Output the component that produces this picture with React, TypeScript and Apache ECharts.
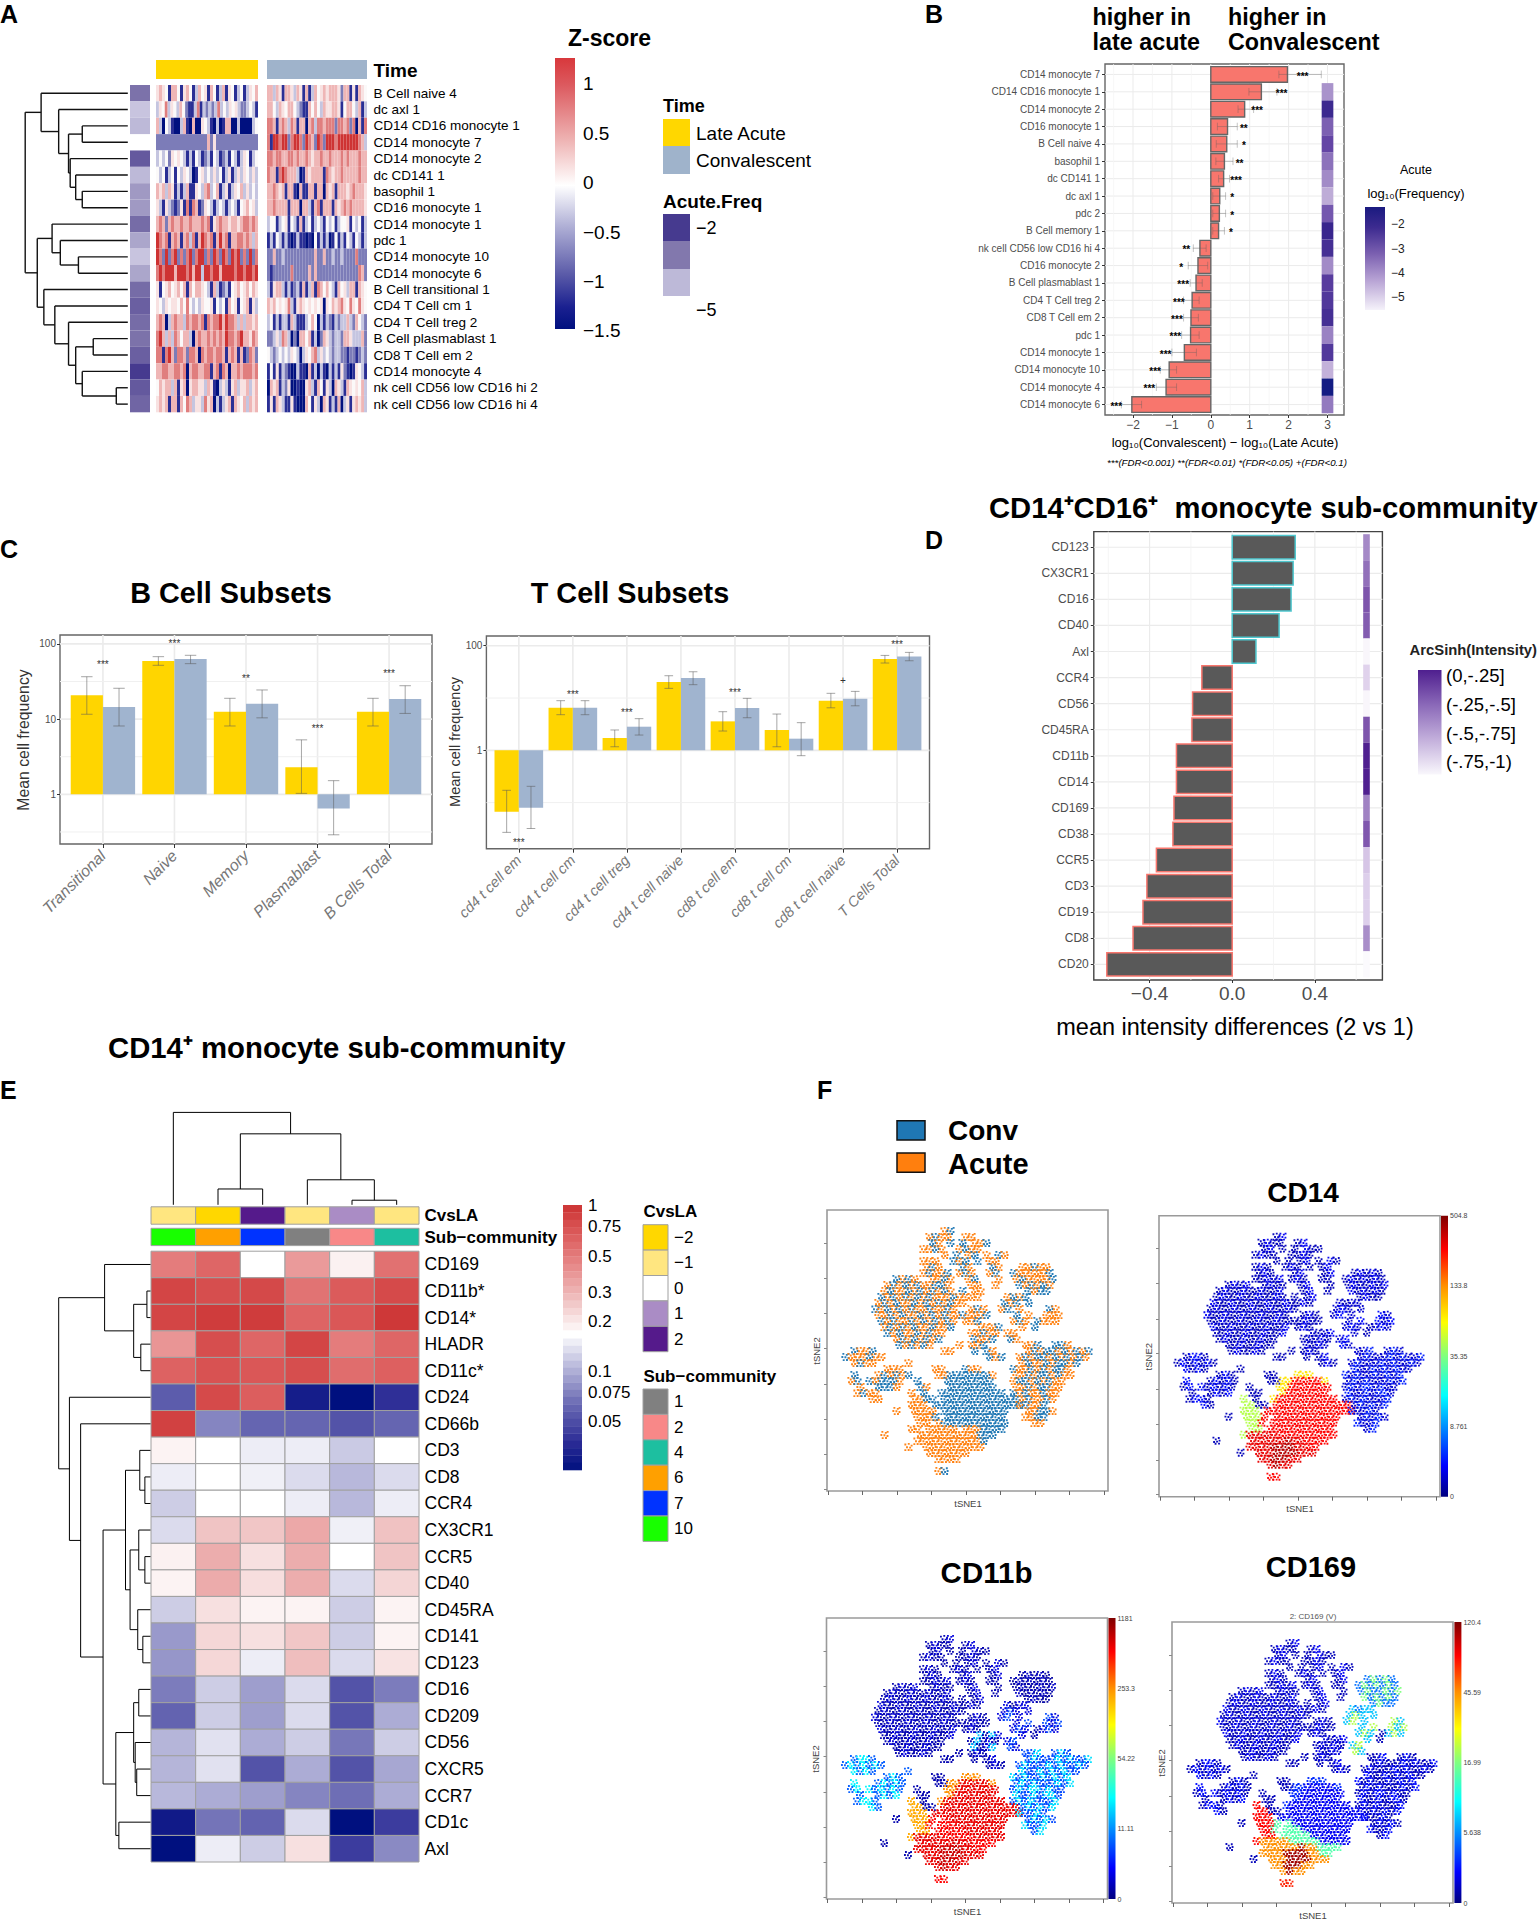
import React, { useEffect, useRef } from "react";
import * as echarts from "echarts";

const FONT = '"Liberation Sans", Arial, sans-serif';

// ---------- Panel A ----------
const aRows = ["B Cell naive 4","dc axl 1","CD14 CD16 monocyte 1","CD14 monocyte 7","CD14 monocyte 2","dc CD141 1","basophil 1","CD16 monocyte 1","CD14 monocyte 1","pdc 1","CD14 monocyte 10","CD14 monocyte 6","B Cell transitional 1","CD4 T Cell cm 1","CD4 T Cell treg 2","B Cell plasmablast 1","CD8 T Cell em 2","CD14 monocyte 4","nk cell CD56 low CD16 hi 2","nk cell CD56 low CD16 hi 4"];
const aLate = [
"prp.Brr.Bpr.Blr.pBr.BlrBp.Bl.Blp.r",
"lp.Rlp.lr.mBBlRBlmlmlRl.lp.plmml.lB",
"rlN.lBNNlrBNrNNp.lBNlNBrrNNlNNNNl.",
"mmmmmmmmmmmmmmmmmrmpmmmmmmmmmmmmmm",
"l.l.mp.p.lBlB.lBmlB.lBmlB.lBlp.Bl.",
".l.Bl.B.lp.lNB.pl.lpl.BlpBlplp.lpl",
"rprlrpBlBlrBBp.lrRl.rBlpBlp.rlpl.l",
"plBplmBmpBRBRrBmp.lBl.lBl.lB.pr.pl",
"rRrmrRrrRrrRrrrRrRBprRrrprrprRRrRr",
"DRrRBrRrBrRlRBrDRrRBrDrRBrrRRrRrlr",
"DRmDmRDmRmRDmRDDmRmDRmDRmDRDmRmDmR",
"RDRDDDrDDDRDrDDlDDRDDrDDDDRDDRDDRD",
"pB.pr.pr.rBr.rrp.lBrlBmlB.pr.pr.rp",
"p.lp.pp.r.R.l.lp..pB.l.Br.pB.prBpl",
"rRrNlrRrrlRrRRrRBRrRRDrDRRrlrlrrpr",
"RDrlrlRr.rrlNrRrrRrRrRrDRRrRDrrpRr",
"RRBRDrmRRrmRRrNRrRRrRRrBrRrBrBmRrm",
"rrRRrrRRrRNrRRrrRRBrRBRrNrrRrRRRrR",
".rprrlrBprNprrpplrpBNlplBprlpprlpr",
"prprBrrBr.RrlpplRprNlBlprBrp.rlrpr"];
const aConv = [
"rrlrpBrrplrpBrBlr.prprrrpmrrBpBrp.",
"rr.lrp.rr.lmBBr.r.lrpprrpB.rr.lrBl",
"RRrBrRrlRrBrrNrRlRRrRRRmRRrRmRNrBR",
"RBDDRDDmRDDRmDRrmDRmDDDRDDDDDDDRrl",
"RRrRRrrRRrRrrRrprrRrrRrrrRrRrrrRrr",
"RrrBRDRrrrlNBrprrrrBRrprrRrrrrrRrr",
"rrRrprBrrBNrBBrrBrrNrprBrrrprRrrrp",
"rrRrrrrBrrrNrrlBrRBrrrBrprRrRrrrrp",
"l..Bl.pB.lBrBl.Bl.lB.l.Bl..pB.l.Bl",
"BlB.lBlBNBlBBNBN.BlBlNB.BlB.lB.lBl",
"mmrmmlmmmmmmmmmmrmmrmmlmmlmmmmRmmm",
"mBmmmmmmRmmmmmrmrmmmmmmmmmmmmmmRrm",
"lBprrlBlBmlBrBlrBRr.r.lBr.plrrBrp.",
"rpr.p.pRlBprp.p.p.pNp.rprRp.Rp.Rp.",
"l.BlBllBrlBBBl.r.NlBlmBlmllrlmr.lm",
"mmlplRrlNmNrr.rBlNmrplmllmrrplllrm",
".lml.l.lp.lNlp.rRlpl.lmllmmBmmBmlm",
"B.BpBlmBNNlBBNrBlNlBNlBlBpmBNBp.lB",
"NrprBlmpNNBNNprlBr.BplNrplBrp.p.rl",
"BpBrplBBpBNNNr.BplNrpBlBrNlpBprprl"];
const aLevels: Record<string, number> = { N: -1.5, B: -1.1, m: -0.7, l: -0.3, ".": 0, p: 0.2, r: 0.45, R: 0.8, D: 1.25 };
const aFreq: (number | null)[] = [-2.9,-4.3,-4.0,null,-2.5,-4.0,-3.5,-3.5,-2.8,-3.7,-4.3,-3.7,-2.8,-2.6,-2.8,-2.9,-2.6,-2,-2.5,-2.7];
const aTree: any = [187,[158,0,[126,1,[108,[83,2,3],[105,4,[95,5,[83,6,7]]]]]],[165,[138,8,[123,9,[90,10,11]]],[153,12,[133,13,[108,14,[95,[63,15,16],[83,17,[21,18,19]]]]]]]];
const zTicks = ["1","0.5","0","−0.5","−1","−1.5"];

// ---------- Panel B ----------
const bCats = ["CD14 monocyte 7","CD14 CD16 monocyte 1","CD14 monocyte 2","CD16 monocyte 1","B Cell naive 4","basophil 1","dc CD141 1","dc axl 1","pdc 2","B Cell memory 1","nk cell CD56 low CD16 hi 4","CD16 monocyte 2","B Cell plasmablast 1","CD4 T Cell treg 2","CD8 T Cell em 2","pdc 1","CD14 monocyte 1","CD14 monocyte 10","CD14 monocyte 4","CD14 monocyte 6"];
const bDiff = [1.97,1.3,0.87,0.43,0.41,0.35,0.33,0.23,0.22,0.2,-0.28,-0.33,-0.38,-0.48,-0.51,-0.52,-0.68,-1.07,-1.15,-2.03];
const bLow = [1.75,0.98,0.7,0.17,0.14,0.13,0.2,0.05,0.05,0.05,-0.45,-0.58,-0.53,-0.7,-0.7,-0.75,-1.0,-1.3,-1.4,-2.3];
const bHigh = [2.84,1.7,1.1,0.68,0.68,0.57,0.48,0.38,0.38,0.35,-0.12,-0.08,-0.22,-0.3,-0.32,-0.3,-0.37,-0.88,-0.88,-1.78];
const bStarX = [2.36,1.82,1.19,0.85,0.85,0.74,0.65,0.55,0.55,0.52,-0.63,-0.76,-0.71,-0.82,-0.87,-0.91,-1.16,-1.43,-1.58,-2.43];
const bStars = ["***","***","***","**","*","**","***","*","*","*","**","*","***","***","***","***","***","***","***","***"];
const bFreq: (number | null)[] = [null,-3.9,-2.3,-3.3,-3,-3.5,-3.8,-4.3,-3.2,-2.2,-2.5,-3.8,-2.8,-2.7,-2.5,-3.7,-2.7,-4.4,-1.7,-3.6];

// ---------- Panel C ----------
const cBCats = ["Transitional","Naive","Memory","Plasmablast","B Cells Total"];
const cBLate = [20.7,59,12.5,2.3,12.5];
const cBConv = [14.5,63,16,0.65,18.5];
const cBLateErr = [[11.6,36.6],[51.9,67.6],[8.1,18.9],[1.03,5.3],[8.1,18.9]];
const cBConvErr = [[8.1,25.7],[54.6,70.5],[10.4,24.4],[0.29,1.52],[11.9,27.8]];
const cBStars = ["***","***","**","***","***"];
const cBStarY = [53.7,100,35,7.6,40.6];
const cTCats = ["cd4 t cell em","cd4 t cell cm","cd4 t cell treg","cd4 t cell naive","cd8 t cell em","cd8 t cell cm","cd8 t cell naive","T Cells Total"];
const cTLate = [0.067,6.5,1.72,20.2,3.58,2.45,8.9,55.6];
const cTConv = [0.08,6.5,2.83,24.1,6.44,1.67,9.7,62.5];
const cTLateErr = [[0.027,0.172],[4.8,8.9],[1.17,2.45],[15.3,26.7],[2.34,5.48],[1.17,4.94],[6.5,12.3],[46.7,65.3]];
const cTConvErr = [[0.032,0.205],[4.8,8.9],[1.96,4.03],[18,31.8],[4.2,9.86],[0.79,3.38],[7.1,13.4],[51.6,74.6]];
const cTStars = ["***","***","***","","***","","+","***"];
const cTStarY = [0.017,11.7,5.2,0,13,0,22,104];

// ---------- Panel D ----------
const dCats = ["CD123","CX3CR1","CD16","CD40","Axl","CCR4","CD56","CD45RA","CD11b","CD14","CD169","CD38","CCR5","CD3","CD19","CD8","CD20"];
const dDiff = [0.305,0.295,0.285,0.227,0.115,-0.147,-0.192,-0.195,-0.27,-0.27,-0.282,-0.287,-0.367,-0.413,-0.432,-0.48,-0.607];
const dIntensity = [-0.48,-0.38,-0.27,-0.3,-0.98,-0.78,-0.98,-0.27,-0.03,-0.03,-0.45,-0.28,-0.72,-0.76,-0.76,-0.5,-1];
const dLegend = ["(0,-.25]","(-.25,-.5]","(-.5,-.75]","(-.75,-1)"];

// ---------- Panel E ----------
const eRows = ["CD169","CD11b*","CD14*","HLADR","CD11c*","CD24","CD66b","CD3","CD8","CCR4","CX3CR1","CCR5","CD40","CD45RA","CD141","CD123","CD16","CD209","CD56","CXCR5","CCR7","CD1c","Axl"];
const eValues = [
[0.6,0.72,0,0.45,0.06,0.66],[0.9,0.85,0.88,0.65,0.78,0.87],[0.9,0.95,0.95,0.73,0.8,0.97],[0.47,0.85,0.72,0.9,0.6,0.72],[0.74,0.83,0.8,0.85,0.68,0.75],
[-0.58,0.87,0.76,-0.9,-1,-0.78],[0.92,-0.42,-0.54,-0.54,-0.62,-0.54],[0.05,0,-0.06,-0.06,-0.18,0],[-0.06,0,-0.05,-0.12,-0.24,-0.12],[-0.17,0,0,-0.06,-0.24,-0.06],
[-0.12,0.25,0.24,0.38,-0.05,0.26],[0.06,0.36,0.13,0.36,0,0.25],[0.05,0.37,0.14,0.36,-0.12,0.18],[-0.17,0.13,0.05,0.05,-0.17,0.05],[-0.35,0.17,0.13,0.24,-0.17,0.05],
[-0.36,0.17,-0.06,0.28,-0.12,0.12],[-0.45,-0.17,-0.33,-0.12,-0.62,-0.45],[-0.55,-0.17,-0.33,-0.12,-0.62,-0.28],[-0.25,-0.1,-0.28,-0.17,-0.47,-0.17],[-0.25,-0.1,-0.62,-0.28,-0.62,-0.3],
[-0.24,-0.28,-0.33,-0.42,-0.5,-0.28],[-0.92,-0.48,-0.55,-0.12,-1,-0.72],[-1,-0.06,-0.17,0.13,-0.72,-0.4]];
const eCvsLA = ["#FFE680","#FFD700","#551A8B","#FFE680","#AA8CC5","#FFE680"];
const eSub = ["#18FF00","#FFA000","#0033FF","#808080","#F88888","#1DBFA0"];
const eCvsLegend = [["−2","#FFD700"],["−1","#FFE680"],["0","#FFFFFF"],["1","#AA8CC5"],["2","#551A8B"]];
const eSubLegend = [["1","#808080"],["2","#F88888"],["4","#1DBFA0"],["6","#FFA000"],["7","#0033FF"],["10","#18FF00"]];
const eLeftTree: any = [181,[91,0,[34,[8,1,2],[20,3,4]]],[160,5,[138,6,[94,[50,[22,7,[12,8,9]],[41,[24,10,[12,11,12]],[26,13,[16,14,15]]]],[69,[34,[24,16,17],[31,18,[28,19,20]]],[63,21,22]]]]]];
const eTopTree: any = [181,0,[139,[31,1,2],[49,3,[9,4,5]]]];
const eScale = [["1",1205],["0.75",1226],["0.5",1256],["0.3",1292.5],["0.2",1321.6],["0.1",1371],["0.075",1392],["0.05",1421.6]] as [string, number][];

// ---------- Panel F: tSNE cells ("col:cells" per row) ----------
const tsneConvAcute = ["","","",
"19:ob","17:oboo 23:oo","17:bo.b 22:b.o 25:ob","16:oobo 22:oboo.","19:o. 21:b.ob.o.bo","16:ooo 21:bob.b 27:oo","16:obo. 21:.bo. 27:bo 32:ooboo",
"16:oboob 22:obo 27:ob 31:booooob","11:bobo 17:oobo 23:ob 27:.o 31:oboooob","10:oboboboob 19:bo 24:oo 28:o 32:bobobo","9:oboobobobobo 22:b.oo 33:bobb","9:bobobobobooob 22:oooo 30:obob.",
"8:oboboobobobobo 22:o. 29:bob.b","8:bobobobooboobo 24:obo 29:ob.o.. 37:bo","8:oobobooboboboo 22:booob 30:.b.o 36:ooo","9:boboobobobobo 22:.oob 31:obo 35:booo","9:obobobooboob 25:ooob 31:.o 34:b",
"10:bobooboboo 24:ooboo 30:oo","11:obobobob 24:boob 30:bo","12:bobobo 22:o 24:oob. 33:oob 38:bbo","4:boob 19:oo 24:b.bo 33:obobbobobob","3:boooboo 26:.bob 32:obobbobobobo",
"4:oboo. 12:.o 32:oboobobbob.","10:ooo. 18:oo 23:boo 31:boobobobbo.","4:b. 7:.obobob 18:oobbbbbbbo 31:oobobboboo","4:ob. 7:bobbbo 15:b. 19:.bbbbbbbb 31:obboboboo","5:o. 7:.bbbo 15:bo 20:bbbbbbbb 31:oobobboo",
"5:ob 7:oo. 14:o.b 18:.bbbbbbbbbbb 31:bobooboo","7:oo 14:oobb.bbbbbbbbbbbbb 32:oboobo","14:ooo.bbbbbbbbbbbbbbb 32:oboob.","11:o 14:oooo.bbbbbbbbbbb 33:oobbo","15:ooob.bbbbbbbbbb 33:oobb",
"15:oo.obbbbbbbbbbb 34:oo","14:oo.ooooo.ooobbbb","9:o 15:oooooooooobbb","15:ooooooooooob","13:o 16:oooooooooo",
"17:ooooooo","18:oooo","","18:ob"];
const tsneRegions = ["","","",
"19:ab","17:abaa 23:ab","17:ab.a 22:a.b 25:aa","16:abaa 22:aaba.","19:a. 21:a.ab.a.ba","16:aba 21:aba.a 27:ab","16:aba. 21:.ab. 27:ab 32:rgrgr",
"16:aabab 22:aba 27:aa 31:rgrgrgr","11:abab 17:abaa 23:ab 27:.a 31:rgrrgrg","10:abaabaaba 19:ab 24:ab 28:a 32:grgrgr","9:abaabaabaaba 22:a.ab 33:rgrr","9:baabaabaabaab 22:aaba 30:srss.",
"8:abaabaabaabaab 22:a. 29:sts.s","8:baabaabaabaaba 24:aba 29:st.s.. 37:ts","8:aabaabaabaabaa 22:aabaa 30:.s.t 36:tst","9:baabaabaabaab 22:.aba 31:sts 35:asts","9:aabaabaabaab 25:mamb 31:.s 34:a",
"10:abaabaabaa 24:amaba 30:st","11:aabaabaa 24:mabm 30:ts","12:abaaba 22:a 24:aba. 33:kkn 38:knk","4:lqql 19:aa 24:a.ab 33:knkkknknkkn","3:lqlqlql 26:.aba 32:knkkknknkknk",
"4:qlql. 12:.l 32:nkknknknkk.","10:lql. 18:aa 23:fff 31:nknkknknkn.","4:q. 7:.lqlql 18:aaffxxxxxf 31:knknkkknkn","4:lq. 7:qlqlql 15:a. 19:.ffxxxxxxx 31:knknnknkk","5:l. 7:.lqlq 15:aa 20:fxxxxxxx 31:nkknknnk",
"5:lq 7:ql. 14:e.a 18:.fxxxxxxxxxx 31:knknkkkn","7:ql 14:eeaa.xxxxxxxxxxxxx 32:knknkn","14:eee.xxxxxxxxxxxxxxx 32:nkknk.","11:a 14:eeey.yxxxxxxxxxx 33:knknk","15:eey.yyyxxxxxxxx 33:nkkn",
"15:ee.yyyyyxxxxxx 34:kn","14:ezzzzzyyyyyxxxxx","9:a 15:zzzzzzwzzyyyy","15:zzzzwwwwzzyy","13:a 16:zzzwwwwzzz",
"17:zzwwwzz","18:zwzz","","18:vv"];
const cd14Levels: Record<string, number> = { a:.05,b:.1,r:.05,g:.1,s:.07,t:.12,m:.07,k:.07,n:.14,l:.05,q:.12,x:.88,y:.88,z:.9,w:.95,e:.55,f:.65,v:.88 };
const cd11bLevels: Record<string, number> = { a:.04,b:.08,r:.03,g:.06,s:.08,t:.18,m:.3,k:.18,n:.33,l:.2,q:.35,x:.9,y:.88,z:.9,w:.93,e:.72,f:.75,v:.88 };
const cd169Levels: Record<string, number> = { a:.05,b:.1,r:.22,g:.5,s:.3,t:.55,m:.08,k:.05,n:.12,l:.05,q:.12,x:.1,y:.45,z:.75,w:.97,e:.88,f:.15,v:.85 };
const cd14Ticks = ["504.8","133.8","35.35","8.761","0"];
const cd11bTicks = ["1181","253.3","54.22","11.11","0"];
const cd169Ticks = ["120.4","45.59","16.99","5.638","0"];
const tsneXTicks = [0.3,6.05,11.8,17.55,23.3,29.05,34.8,40.55,46.3];
const tsneYTicks = [5.5,11.3,17.2,23,29,34.8,40.7,46.5];

// ---------- helpers ----------
const hexRgb = (h: string) => [parseInt(h.slice(1,3),16),parseInt(h.slice(3,5),16),parseInt(h.slice(5,7),16)];
function ramp(stops: [number,string][], v: number) {
  if (v <= stops[0][0]) return stops[0][1];
  for (let i = 1; i < stops.length; i++) {
    if (v <= stops[i][0]) {
      const t = (v - stops[i-1][0]) / (stops[i][0] - stops[i-1][0]);
      const a = hexRgb(stops[i-1][1]), b = hexRgb(stops[i][1]);
      return `rgb(${a.map((c,k)=>Math.round(c+(b[k]-c)*t)).join(",")})`;
    }
  }
  return stops[stops.length-1][1];
}
const zStops: [number,string][] = [[-1.5,"#00107f"],[-1.1,"#2a2f95"],[-0.7,"#7c7cb8"],[-0.3,"#c5c5e0"],[0,"#fbf9f9"],[0.2,"#f8e2e2"],[0.45,"#efb6b6"],[0.8,"#e07e7e"],[1.3,"#cc2b2b"]];
const aFreqStops: [number,string][] = [[-5,"#e0def0"],[-4,"#bdb9d8"],[-3,"#8278ad"],[-2,"#463a8f"]];
const bFreqStops: [number,string][] = [[-5.4,"#f3f0f9"],[-4.5,"#c8b7dd"],[-4,"#b09bcf"],[-3.5,"#8c72bb"],[-3,"#6445a5"],[-2.5,"#452f94"],[-2,"#2f1f88"],[-1.5,"#001a80"]];
const dStops: [number,string][] = [[-1,"#fbfafd"],[-0.75,"#dccdea"],[-0.5,"#a98ec9"],[-0.25,"#7a50aa"],[0,"#4a1a8c"]];
const eStops: [number,string][] = [[-1,"#00107f"],[-0.8,"#2a2a95"],[-0.5,"#6e6eb5"],[-0.25,"#b5b5d9"],[0,"#ffffff"],[0.25,"#f0c4c4"],[0.5,"#e88f8f"],[0.75,"#dd6060"],[1,"#cc3333"]];
const jetStops: [number,string][] = [[0,"#00007f"],[0.11,"#0000ff"],[0.36,"#00ffff"],[0.5,"#7fff7f"],[0.62,"#ffff00"],[0.75,"#ff9000"],[0.88,"#ff0000"],[1,"#7f0000"]];

const grids: any[] = [], xAxes: any[] = [], yAxes: any[] = [], series: any[] = [], graphics: any[] = [];
function axis(min: number, max: number, o: any = {}) {
  if (!o.ticks) return { type: "value", min, max, show: false, inverse: !!o.inverse, splitLine: { show: false }, axisLine: { onZero: false } };
  return {
    type: "value", min, max, inverse: !!o.inverse, position: o.position, splitLine: { show: false },
    axisLine: { show: false, onZero: false },
    axisTick: { show: o.tick !== false, length: o.tickLen ?? 3, lineStyle: { color: o.tickColor ?? "#333" }, customValues: o.ticks },
    axisLabel: {
      show: !!o.fmt, customValues: o.ticks, formatter: o.fmt, fontSize: o.size ?? 10, color: o.color ?? "#4d4d4d", margin: o.margin ?? 2,
      fontFamily: FONT, rotate: o.rotate ?? 0, fontStyle: o.italic ? "italic" : "normal", hideOverlap: false, showMinLabel: true, showMaxLabel: true,
    },
  };
}
function addGrid(x0: number, y0: number, x1: number, y1: number, xa: any, ya: any, frame?: { color: string; width: number }) {
  const i = grids.length;
  grids.push({ left: x0, top: y0, width: x1 - x0, height: y1 - y0, show: !!frame, backgroundColor: frame ? "#fff" : "transparent", borderColor: frame?.color ?? "#666", borderWidth: frame?.width ?? 0 });
  xAxes.push({ ...xa, gridIndex: i });
  yAxes.push({ ...ya, gridIndex: i });
  return i;
}
const base = (gi: number, data: any[], renderItem: any, z = 2) => ({ type: "custom", xAxisIndex: gi, yAxisIndex: gi, coordinateSystem: "cartesian2d", data, renderItem, silent: true, z, clip: false, progressive: 0, animation: false });
function tiles(gi: number, items: number[][], fills: string[], stroke?: string | string[], lw = 0) {
  series.push(base(gi, items, (p: any, api: any) => {
    const a = api.coord([api.value(0), api.value(2)]), b = api.coord([api.value(1), api.value(3)]);
    return { type: "rect", shape: { x: Math.min(a[0],b[0]), y: Math.min(a[1],b[1]), width: Math.abs(a[0]-b[0]), height: Math.abs(a[1]-b[1]) },
      style: { fill: fills[p.dataIndex], stroke: Array.isArray(stroke) ? stroke[p.dataIndex] : stroke, lineWidth: lw } };
  }));
}
function lines(gi: number, segs: number[][], color: string, lw: number, z = 3) {
  series.push(base(gi, segs, (_p: any, api: any) => {
    const a = api.coord([api.value(0), api.value(1)]), b = api.coord([api.value(2), api.value(3)]);
    return { type: "line", shape: { x1: a[0], y1: a[1], x2: b[0], y2: b[1] }, style: { stroke: color, lineWidth: lw, fill: null } };
  }, z));
}
function texts(gi: number, pts: number[][], labels: string[], font: string, color: string) {
  series.push(base(gi, pts, (p: any, api: any) => {
    const a = api.coord([api.value(0), api.value(1)]);
    return { type: "text", style: { text: labels[p.dataIndex], x: a[0], y: a[1], font, fill: color, align: "center", verticalAlign: "middle", textAlign: "center", textVerticalAlign: "middle" } };
  }, 4));
}
function rules(gi: number, xs: number[], ys: number[], xr: [number,number], yr: [number,number], color: string, lw: number) {
  const segs = [...xs.map((v) => [v, yr[0], v, yr[1]]), ...ys.map((v) => [xr[0], v, xr[1], v])];
  lines(gi, segs, color, lw, 1);
}
function treeSegs(t: any, out: number[][], leafH: number): [number, number] {
  if (typeof t === "number") return [t, leafH];
  const [pa, ha] = treeSegs(t[1], out, leafH), [pb, hb] = treeSegs(t[2], out, leafH);
  out.push([pa, ha, pa, t[0]], [pb, hb, pb, t[0]], [pa, t[0], pb, t[0]]);
  return [(pa + pb) / 2, t[0]];
}
function txt(x: number, y: number, text: string, size: number, o: any = {}) {
  graphics.push({ type: "text", x, y, rotation: o.rotation ?? 0, z: 10, silent: true, style: {
    text, x: 0, y: 0, fill: o.color ?? "#000", align: o.align ?? "left", verticalAlign: "middle", textAlign: o.align ?? "left", textVerticalAlign: "middle",
    font: `${o.italic ? "italic " : ""}${o.bold ? "bold " : ""}${size}px ${FONT}` } });
}
function box(x0: number, y0: number, x1: number, y1: number, fill: any, stroke?: string, lw = 0) {
  graphics.push({ type: "rect", z: 9, silent: true, shape: { x: x0, y: y0, width: x1 - x0, height: y1 - y0 }, style: { fill, stroke, lineWidth: lw } });
}
const vGrad = (stops: [number,string][]) => new echarts.graphic.LinearGradient(0, 0, 0, 1, stops.map(([offset,color]) => ({ offset, color })));
const range = (n: number) => Array.from({ length: n }, (_, i) => i);

// ---------- build panel A ----------
function panelA() {
  txt(0, 14, "A", 25, { bold: true });
  const rowAxis = (extra: any = {}) => axis(-0.5, 19.5, { inverse: true, ...extra });
  const block = (rows: string[], x0: number, x1: number, withLabels: boolean) => {
    const gi = addGrid(x0, 85, x1, 412.3, axis(0, 1), withLabels
      ? rowAxis({ ticks: range(20), fmt: (v: number) => aRows[v], tick: false, position: "right", size: 13.5, color: "#000", margin: 6.5 })
      : rowAxis());
    const items: number[][] = [], fills: string[] = [];
    rows.forEach((s, r) => {
      for (let c = 0; c < s.length; c++) {
        items.push([c / s.length, (c + 1) / s.length, r - 0.5, r + 0.5]);
        fills.push(ramp(zStops, aLevels[s[c]] ?? 0));
      }
    });
    tiles(gi, items, fills);
  };
  block(aLate, 156, 258, false);
  block(aConv, 267, 367, true);
  const fg = addGrid(130, 85, 150, 412.3, axis(0, 1), rowAxis());
  const fi = range(20).filter((r) => aFreq[r] !== null);
  tiles(fg, fi.map((r) => [0, 1, r - 0.5, r + 0.5]), fi.map((r) => ramp(aFreqStops, aFreq[r] as number)));
  const tg = addGrid(25.2, 85, 127.8, 412.3, axis(0, 187, { inverse: true }), rowAxis());
  const segs: number[][] = [];
  treeSegs(aTree, segs, 0);
  lines(tg, segs.map(([p1,h1,p2,h2]) => [h1,p1,h2,p2]), "#111", 1.4);
  box(156, 60, 258, 79, "#FFD700");
  box(267, 60, 367, 79, "#9FB3CB");
  txt(373.5, 70, "Time", 19, { bold: true });
  txt(568, 38, "Z-score", 23, { bold: true });
  box(555, 58, 575, 329, vGrad([[0,"#d8383c"],[0.1,"#dc5a5f"],[0.3,"#eeb2b2"],[0.47,"#ffffff"],[0.62,"#b0b0d6"],[0.8,"#5a5aa8"],[0.92,"#1a2090"],[1,"#00107f"]]));
  [83,133,182,232,281,330].forEach((y, i) => txt(583, y, zTicks[i], 19));
  txt(663, 106, "Time", 18, { bold: true });
  box(663, 119, 690, 146, "#FFD700"); box(663, 146, 690, 174, "#9FB3CB");
  txt(696, 133, "Late Acute", 19); txt(696, 160, "Convalescent", 19);
  txt(663, 201, "Acute.Freq", 19, { bold: true });
  box(663, 214, 690, 241, "#463A8F"); box(663, 241, 690, 269, "#8278AD"); box(663, 269, 690, 296, "#BDB9D8");
  txt(696, 228, "−2", 18); txt(696, 310, "−5", 18);
}

// ---------- build panel B ----------
function panelB() {
  txt(925, 14, "B", 25, { bold: true });
  txt(1092.6, 17, "higher in", 23.3, { bold: true }); txt(1092.6, 42, "late acute", 23.3, { bold: true });
  txt(1228, 17, "higher in", 23.3, { bold: true }); txt(1228, 42, "Convalescent", 23.3, { bold: true });
  const xr: [number,number] = [-2.72, 3.424], yr: [number,number] = [-0.6, 19.6];
  const gi = addGrid(1105, 64, 1344, 415,
    axis(xr[0], xr[1], { ticks: [-2,-1,0,1,2,3], fmt: (v: number) => String(v).replace("-", "−"), size: 12, margin: 4, tickLen: 3 }),
    axis(yr[0], yr[1], { inverse: true, ticks: range(20), fmt: (v: number) => bCats[v], size: 10, margin: 5 }),
    { color: "#666", width: 1.4 });
  rules(gi, [-2,-1,0,1,2,3], range(20), xr, yr, "#ebebeb", 1);
  rules(gi, [-2.5,-1.5,-0.5,0.5,1.5,2.5], [], xr, yr, "#f3f3f3", 0.7);
  tiles(gi, bDiff.map((v, r) => [Math.min(v, 0), Math.max(v, 0), r - 0.45, r + 0.45]), bDiff.map(() => "#F8766D"), "#666", 1.4);
  const errs: number[][] = [];
  bLow.forEach((l, r) => { errs.push([l, r, bHigh[r], r], [l, r - 0.22, l, r + 0.22], [bHigh[r], r - 0.22, bHigh[r], r + 0.22]); });
  lines(gi, errs, "rgba(90,90,90,0.45)", 0.8);
  const fi = range(20).filter((r) => bFreq[r] !== null);
  tiles(gi, fi.map((r) => [2.85, 3.15, r - 0.5, r + 0.5]), fi.map((r) => ramp(bFreqStops, bFreq[r] as number)));
  texts(gi, bStarX.map((x, r) => [x, r + 0.1]), bStars, `bold 10px ${FONT}`, "#000");
  txt(1225, 442, "log₁₀(Convalescent) − log₁₀(Late Acute)", 13, { align: "center" });
  txt(1227, 462, "***(FDR<0.001) **(FDR<0.01) *(FDR<0.05) +(FDR<0.1)", 9.7, { align: "center", italic: true });
  txt(1416, 170, "Acute", 12.5, { align: "center" });
  txt(1416, 193, "log₁₀(Frequency)", 13, { align: "center" });
  box(1365, 207, 1385, 310, vGrad([[0,"#1a1a80"],[0.2,"#3d2b90"],[0.45,"#7a5fb0"],[0.7,"#b5a0d3"],[1,"#f5f2fa"]]));
  [224,249,273,297].forEach((y, i) => txt(1391, y, `−${i + 2}`, 12, { color: "#222" }));
}

// ---------- build panel C ----------
function barPanel(frame: number[], yr: [number,number], cats: string[], late: number[], conv: number[], lateErr: number[][], convErr: number[][], stars: string[], starY: number[], labels: number[], minor: number[], labelSize: number) {
  const [x0, y0, x1, y1] = frame;
  const n = cats.length, xr: [number,number] = [-0.6, n - 0.4];
  const gi = addGrid(x0, y0, x1, y1,
    axis(xr[0], xr[1], { ticks: range(n), fmt: (v: number) => cats[v], size: labelSize, rotate: 45, italic: true, color: "#777", margin: 9, tickLen: 4 }),
    axis(yr[0], yr[1], { ticks: labels, fmt: (v: number) => String(Math.round(Math.pow(10, v))), size: 10, margin: 4 }),
    { color: "#666", width: 1.4 });
  rules(gi, range(n), labels.concat([]), xr, yr, "#ebebeb", 1.6);
  rules(gi, [], minor, xr, yr, "#f0f0f0", 1);
  const log = Math.log10;
  const items: number[][] = [], fills: string[] = [], errs: number[][] = [];
  const cap = 0.08;
  cats.forEach((_, i) => {
    items.push([i - 0.45, i, 0, log(late[i])], [i, i + 0.45, 0, log(conv[i])]);
    fills.push("#FFD500", "#A0B4CF");
    [[i - 0.225, lateErr[i]], [i + 0.225, convErr[i]]].forEach(([x, e]: any) => {
      errs.push([x, log(e[0]), x, log(e[1])], [x - cap, log(e[0]), x + cap, log(e[0])], [x - cap, log(e[1]), x + cap, log(e[1])]);
    });
  });
  tiles(gi, items, fills);
  lines(gi, errs, "rgba(90,90,90,0.6)", 0.9);
  const si = range(n).filter((i) => stars[i]);
  texts(gi, si.map((i) => [i, log(starY[i])]), si.map((i) => stars[i]), `10px ${FONT}`, "#333");
}
function panelC() {
  txt(0, 549, "C", 25, { bold: true });
  txt(231, 593, "B Cell Subsets", 28.8, { bold: true, align: "center" });
  txt(630, 593, "T Cell Subsets", 28.8, { bold: true, align: "center" });
  barPanel([60,635,432,844], [-0.66,2.118], cBCats, cBLate, cBConv, cBLateErr, cBConvErr, cBStars, cBStarY, [0,1,2], [-0.5,0.5,1.5], 16);
  barPanel([486.4,636,929.5,848.7], [-1.881,2.186], cTCats, cTLate, cTConv, cTLateErr, cTConvErr, cTStars, cTStarY, [0,2], [-1,1], 14.5);
  txt(23.5, 740, "Mean cell frequency", 15.8, { rotation: Math.PI / 2, align: "center", color: "#333" });
  txt(455, 742, "Mean cell frequency", 14.5, { rotation: Math.PI / 2, align: "center", color: "#333" });
}

// ---------- build panel D ----------
function panelD() {
  txt(925, 540, "D", 25, { bold: true });
  txt(989, 508, "CD14⁺CD16⁺  monocyte sub-community", 29.2, { bold: true });
  const xr: [number,number] = [-0.67, 0.727], yr: [number,number] = [-0.6, 16.6];
  const gi = addGrid(1093.8, 531.6, 1382.4, 980,
    axis(xr[0], xr[1], { ticks: [-0.4,0,0.4], fmt: (v: number) => v.toFixed(1).replace("-", "−"), size: 19, margin: 4, tickLen: 3 }),
    axis(yr[0], yr[1], { inverse: true, ticks: range(17), fmt: (v: number) => dCats[v], size: 12, margin: 5 }),
    { color: "#444", width: 1.4 });
  rules(gi, [-0.4,0,0.4], range(17), xr, yr, "#ebebeb", 1.2);
  rules(gi, [-0.6,-0.2,0.2,0.6], [], xr, yr, "#f3f3f3", 0.8);
  tiles(gi, dDiff.map((v, r) => [Math.min(v, 0), Math.max(v, 0), r - 0.45, r + 0.45]), dDiff.map(() => "#595959"), dDiff.map((v) => (v > 0 ? "#4FC8CF" : "#F8766D")), 1.5);
  tiles(gi, dIntensity.map((_, r) => [0.634, 0.666, r - 0.5, r + 0.5]), dIntensity.map((v) => ramp(dStops, v)));
  txt(1235, 1027, "mean intensity differences (2 vs 1)", 23.5, { align: "center" });
  txt(1409.6, 650, "ArcSinh(Intensity)", 14.8, { bold: true, color: "#222" });
  box(1418, 670, 1441.5, 774.5, vGrad([[0,"#4f1f8f"],[0.33,"#8a68b8"],[0.66,"#c2aedb"],[1,"#f9f7fc"]]));
  [675,704,733,761].forEach((y, i) => txt(1446, y, dLegend[i], 18.5));
}

// ---------- build panel E ----------
function panelE() {
  txt(0, 1090, "E", 25, { bold: true });
  txt(108, 1047, "CD14⁺ monocyte sub-community", 29.3, { bold: true });
  const gi = addGrid(151, 1251.2, 419, 1862, axis(-0.5, 5.5),
    axis(-0.5, 22.5, { inverse: true, ticks: range(23), fmt: (v: number) => eRows[v], tick: false, position: "right", size: 17.5, color: "#000", margin: 5.5 }));
  const items: number[][] = [], fills: string[] = [];
  eValues.forEach((row, r) => row.forEach((v, c) => { items.push([c - 0.5, c + 0.5, r - 0.5, r + 0.5]); fills.push(ramp(eStops, v)); }));
  tiles(gi, items, fills, "#a0a0a0", 1);
  const lt = addGrid(58.7, 1251.2, 151, 1862, axis(0, 181, { inverse: true }), axis(-0.5, 22.5, { inverse: true }));
  const ls: number[][] = [];
  treeSegs(eLeftTree, ls, 1);
  lines(lt, ls.map(([p1,h1,p2,h2]) => [h1,p1,h2,p2]), "#000", 1);
  const tt = addGrid(151, 1112.4, 419, 1204.8, axis(-0.5, 5.5), axis(0, 181));
  const ts: number[][] = [];
  treeSegs(eTopTree, ts, 0);
  lines(tt, ts, "#000", 1);
  const cw = (419 - 151) / 6;
  eCvsLA.forEach((c, i) => box(151 + i * cw, 1206.8, 151 + (i + 1) * cw, 1224.2, c, "#a0a0a0", 1));
  eSub.forEach((c, i) => box(151 + i * cw, 1228.3, 151 + (i + 1) * cw, 1245.6, c, "#a0a0a0", 1));
  txt(424.5, 1215.5, "CvsLA", 17, { bold: true });
  txt(424.5, 1237, "Sub−community", 17, { bold: true });
  const band = (y0: number, y1: number, n: number, v0: number, v1: number) => {
    range(n).forEach((i) => {
      const h = (y1 - y0) / n;
      box(563, y0 + i * h, 582, y0 + (i + 1) * h + 0.3, ramp(eStops, v0 + ((v1 - v0) * (i + 0.5)) / n));
    });
  };
  band(1205, 1330, 17, 1, 0.03);
  band(1338.5, 1470, 18, -0.03, -1);
  eScale.forEach(([t, y]) => txt(588, y, t, 17));
  txt(643.4, 1211.4, "CvsLA", 17, { bold: true });
  eCvsLegend.forEach(([t, c], i) => { box(643, 1224.7 + i * 25.4, 668, 1224.7 + (i + 1) * 25.4, c, "#a0a0a0", 1); txt(674, 1237.4 + i * 25.4, t, 17); });
  txt(643.4, 1376.7, "Sub−community", 17, { bold: true });
  eSubLegend.forEach(([t, c], i) => { box(643, 1389 + i * 25.4, 668, 1389 + (i + 1) * 25.4, c, "#a0a0a0", 1); txt(674, 1401.7 + i * 25.4, t, 17); });
}

// ---------- build panel F ----------
const dots = (pts: number[][]) => "path://" + pts.map(([x, y]) => `M${x} ${y}h2.8v2.8h-2.8Z`).join("");
const speckles = [
  dots([[0,1],[5,0],[9.2,2.5],[2.4,5],[7,5.5],[0,9.2],[4.8,9],[9,9.2]]),
  dots([[1.5,0],[6.5,1.5],[9.2,0],[0,4.5],[4.5,5],[9,6],[2,9.2],[6.8,9]]),
  dots([[0,0],[3.5,2.5],[8,0.5],[9.2,4.5],[1,6.5],[5.5,6],[3.2,9.2],[8.4,9]]),
];
function tsneCells(rows: string[]) {
  const out: { x: number; y: number; ch: string }[] = [];
  rows.forEach((row, r) => {
    if (!row) return;
    row.split(" ").forEach((tok) => {
      const [c, cells] = tok.split(":");
      for (let k = 0; k < cells.length; k++) {
        if (cells[k] !== ".") out.push({ x: +c + k + (r % 2 ? 0.75 : 0.25), y: r + 0.5, ch: cells[k] });
      }
    });
  });
  return out;
}
function tsnePanel(x0: number, y0: number, data: any[], color: any, size: number) {
  const gi = addGrid(x0, y0, x0 + 281, y0 + 281,
    axis(0.17, 47, { ticks: tsneXTicks, tickLen: 4, tickColor: "#666" }),
    axis(0, 46.83, { inverse: true, ticks: tsneYTicks, tickLen: 3, tickColor: "#888" }),
    { color: "#9a9a9a", width: 1.6 });
  series.push({ type: "scatter", xAxisIndex: gi, yAxisIndex: gi, data, symbol: (_v: any, p: any) => speckles[p.dataIndex % 3], symbolSize: size, itemStyle: { color, opacity: 0.95 }, silent: true, z: 2, large: false, progressive: 0 });
  txt(x0 + 141, y0 + 293, "tSNE1", 9.5, { align: "center", color: "#444" });
  txt(x0 - 11, y0 + 141, "tSNE2", 9.5, { align: "center", color: "#444", rotation: Math.PI / 2 });
}
function colorBar(x: number, y0: number, y1: number, labels: string[]) {
  box(x, y0, x + 7, y1, vGrad(jetStops.map(([t, c]) => [1 - t, c] as [number,string]).reverse()));
  labels.forEach((t, i) => txt(x + 9, y0 + ((y1 - y0) * i) / 4, t, 7, { color: "#444" }));
}
function panelF() {
  txt(817, 1090, "F", 25, { bold: true });
  box(897, 1120.7, 925, 1140, "#1F77B4", "#111", 1.5);
  box(897, 1153, 925, 1172.3, "#FF7F0E", "#111", 1.5);
  txt(948, 1130, "Conv", 28, { bold: true });
  txt(948, 1164, "Acute", 29, { bold: true });
  const conv = tsneCells(tsneConvAcute).map((p) => [p.x, p.y, p.ch === "b" ? 0 : 1]);
  tsnePanel(827, 1210, conv, (p: any) => (p.value[2] === 0 ? "#1F77B4" : "#FF7F0E"), 8.2);
  const regions = tsneCells(tsneRegions);
  const jet = (p: any) => ramp(jetStops, p.value[2]);
  const mk = (lv: Record<string, number>) => regions.map((p) => [p.x, p.y, lv[p.ch]]);
  tsnePanel(1159, 1215.7, mk(cd14Levels), jet, 8);
  tsnePanel(826.5, 1618, mk(cd11bLevels), jet, 8);
  tsnePanel(1172, 1622, mk(cd169Levels), jet, 8);
  colorBar(1441, 1215.7, 1496.7, cd14Ticks);
  colorBar(1108.5, 1618, 1899, cd11bTicks);
  colorBar(1454.4, 1622, 1903, cd169Ticks);
  txt(1303, 1192, "CD14", 28, { bold: true, align: "center" });
  txt(986.5, 1572, "CD11b", 29.5, { bold: true, align: "center" });
  txt(1311, 1567, "CD169", 29, { bold: true, align: "center" });
  txt(1313, 1616, "2: CD169 (V)", 8, { align: "center", color: "#555" });
}

panelA(); panelB(); panelC(); panelD(); panelE(); panelF();
const chartOption = { animation: false, backgroundColor: "#fff", textStyle: { fontFamily: FONT }, grid: grids, xAxis: xAxes, yAxis: yAxes, series, graphic: { elements: graphics } };

export default function App() {
  const ref = useRef<HTMLDivElement>(null);
  useEffect(() => {
    const chart = echarts.init(ref.current as HTMLDivElement, undefined, { renderer: "svg" });
    chart.setOption(chartOption);
    return () => chart.dispose();
  }, []);
  return <div ref={ref} style={{ position: "absolute", left: 0, top: 0, width: 1538, height: 1920 }} />;
}
